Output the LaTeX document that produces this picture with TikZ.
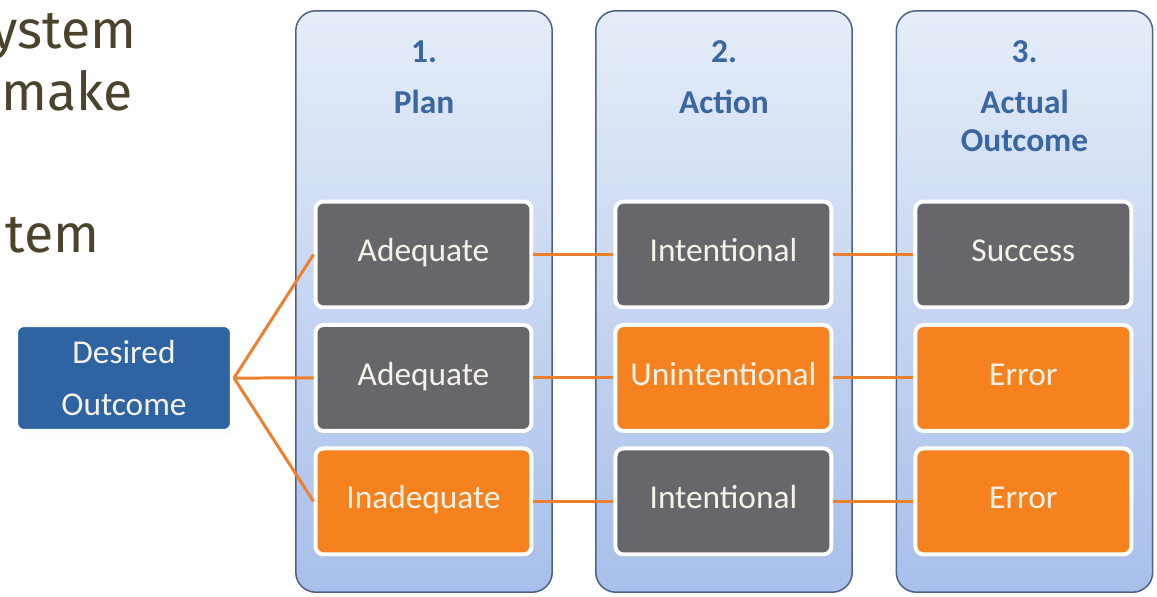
\documentclass[tikz,border=0pt]{standalone}
\usepackage{fontspec}
\setmainfont{Carlito}
\newfontfamily\slidefont{Fira Sans}
\usetikzlibrary{shadows}

\definecolor{boxgray}{HTML}{67676B}
\definecolor{boxorange}{HTML}{F5821F}
\definecolor{boxblue}{HTML}{2E64A2}
\definecolor{coltop}{HTML}{E6EDF8}
\definecolor{colbot}{HTML}{A7BFEA}
\definecolor{coledge}{HTML}{4E6285}
\definecolor{headblue}{HTML}{3A66A2}
\definecolor{linkorange}{HTML}{EE7F2D}
\definecolor{slidetext}{HTML}{4B432C}
\definecolor{labeltext}{HTML}{F6F2EA}

\tikzstyle{column} = [rectangle, rounded corners=0.4cm, minimum width=5.13cm, minimum height=11.63cm, draw=coledge, line width=0.03cm, top color=coltop, bottom color=colbot]
\tikzstyle{choice} = [rectangle, rounded corners=0.16cm, minimum width=4.32cm, minimum height=2.12cm, inner sep=0pt, draw=white, line width=0.08cm, text=labeltext, font=\fontsize{19}{22}\selectfont, text height=0.84em, text depth=0pt, drop shadow={shadow xshift=0.3pt, shadow yshift=-1.2pt, opacity=0.3}]
\tikzstyle{greybox} = [choice, fill=boxgray]
\tikzstyle{amberbox} = [choice, fill=boxorange]
\tikzstyle{head} = [text=headblue, font=\bfseries\fontsize{19}{21.6}\selectfont, align=center]
\tikzstyle{link} = [draw=linkorange, line width=0.06cm]
\tikzstyle{slide} = [text=slidetext, font=\slidefont\fontsize{30.5}{36}\selectfont, inner sep=0pt, anchor=base east]

\begin{document}
\begin{tikzpicture}[x=0.02cm, y=-0.02cm, node distance=2.47cm]
\useasboundingbox (0,0) rectangle (1157,596);
\clip (0,0) rectangle (1157,596);

% text of the slide, cut at the left edge
\node (slide1) [slide] at (137,48) {ystem};
\node (slide2) [slide] at (133,110) {make};
\node (slide3) [slide] at (100,252) {tem};
\node (slide4) [slide] at (3,488) {o};

% the three stages
\node (col1) [column] at (424,301.5) {};
\node (col2) [column] at (724,301.5) {};
\node (col3) [column] at (1024.5,301.5) {};

\node (num1) [head] at (424,52) {1.};
\node (num2) [head] at (724,52) {2.};
\node (num3) [head] at (1024.5,52) {3.};
\node (head1) [head] at (424,102) {Plan};
\node (head2) [head] at (724,102) {Action};
\node (head3) [head] at (1024.5,121) {Actual\\Outcome};

\node (desired) [choice, fill=boxblue, align=center, font=\fontsize{19}{30}\selectfont, text height=, text depth=] at (124,378) {Desired\\Outcome};

\node (plan1) [greybox] at (423.5,254.5) {Adequate};
\node (plan2) [greybox, below of=plan1] {Adequate};
\node (plan3) [amberbox, below of=plan2] {Inadequate};

\node (act1) [greybox, right of=plan1, node distance=6cm] {Intentional};
\node (act2) [amberbox, right of=plan2, node distance=6cm] {Unintentional};
\node (act3) [greybox, right of=plan3, node distance=6cm] {Intentional};

\node (out1) [greybox, right of=act1, node distance=6cm] {Success};
\node (out2) [amberbox, right of=act2, node distance=6cm] {Error};
\node (out3) [amberbox, right of=act3, node distance=6cm] {Error};

\draw [link] (desired.east) -- (plan1.west);
\draw [link] (desired.east) -- (plan2.west);
\draw [link] (desired.east) -- (plan3.west);
\draw [link] (plan1) -- (act1);
\draw [link] (plan2) -- (act2);
\draw [link] (plan3) -- (act3);
\draw [link] (act1) -- (out1);
\draw [link] (act2) -- (out2);
\draw [link] (act3) -- (out3);
\end{tikzpicture}
\end{document}
